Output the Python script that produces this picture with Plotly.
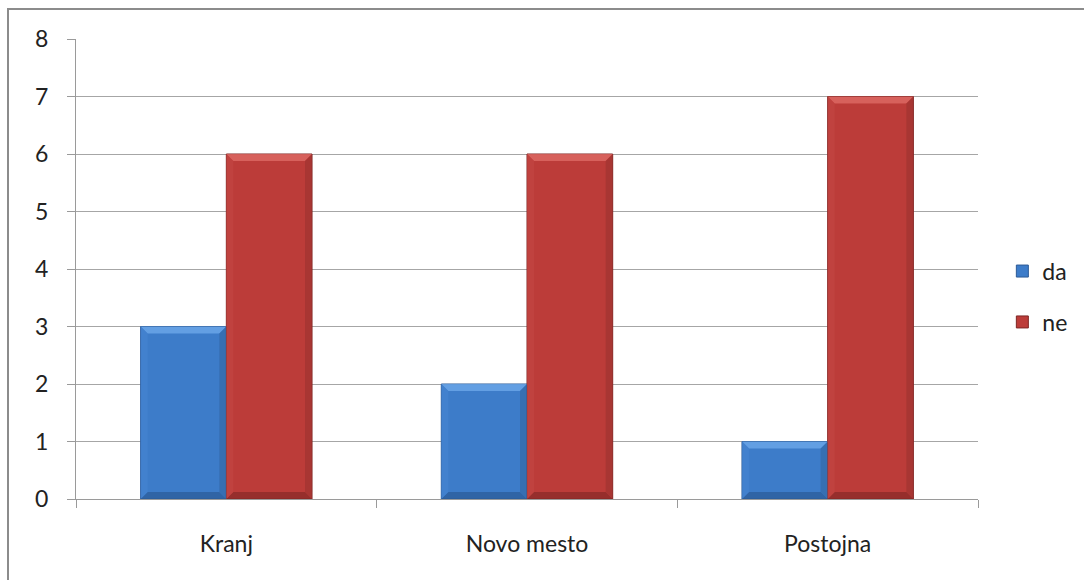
import plotly.graph_objects as go

categories = ["Kranj", "Novo mesto", "Postojna"]
da_values = [3, 2, 1]
ne_values = [6, 6, 7]
y_ticks = [0, 1, 2, 3, 4, 5, 6, 7, 8]

W, H = 1084, 580
L, R, T, B = 76, 106, 39, 81
FONT = "Lato"
BARGAP = 0.43

# bevel palettes: face, top, bottom, left, right
BLUE = dict(face="#3D7CC9", top="#74AEEE", bottom="#2B5A96", left="#4483D0", right="#3469A8")
RED = dict(face="#BC3C39", top="#E2706B", bottom="#862826", left="#C24441", right="#A03331")

fig = go.Figure()
fig.add_trace(go.Bar(
    name="da", x=categories, y=da_values, legendgroup="da",
    marker=dict(color=BLUE["face"], line=dict(color="#2C5A96", width=1)),
))
fig.add_trace(go.Bar(
    name="ne", x=categories, y=ne_values, legendgroup="ne",
    marker=dict(color=RED["face"], line=dict(color="#7E2624", width=1)),
))

# bevelled edges on each bar, placed from the same values
bar_w = (1 - BARGAP) / 2
plot_w = W - L - R
plot_h = H - T - B
dx = 7 / plot_w * len(categories)
dy_unit = 7 / plot_h * (y_ticks[-1] - y_ticks[0])


def bevel(x0, x1, h, pal):
    dy = min(dy_unit, h / 3)
    polys = [
        (pal["top"], [(x0, h), (x1, h), (x1 - dx, h - dy), (x0 + dx, h - dy)]),
        (pal["bottom"], [(x0, 0), (x1, 0), (x1 - dx, dy), (x0 + dx, dy)]),
        (pal["left"], [(x0, 0), (x0, h), (x0 + dx, h - dy), (x0 + dx, dy)]),
        (pal["right"], [(x1, 0), (x1, h), (x1 - dx, h - dy), (x1 - dx, dy)]),
    ]
    for col, pts in polys:
        path = "M " + " L ".join(f"{px},{py}" for px, py in pts) + " Z"
        fig.add_shape(type="path", xref="x", yref="y", path=path,
                      fillcolor=col, line=dict(width=0), layer="above", opacity=0.7)


for i in range(len(categories)):
    bevel(i - bar_w, i, da_values[i], BLUE)
    bevel(i, i + bar_w, ne_values[i], RED)

fig.update_layout(
    width=W, height=H,
    margin=dict(l=L, r=R, t=T, b=B, autoexpand=False),
    paper_bgcolor="white", plot_bgcolor="white",
    barmode="group", bargap=BARGAP, bargroupgap=0,
    font=dict(family=FONT, size=23, color="#222222"),
    showlegend=True,
    legend=dict(
        x=1.027, y=0.44, xanchor="left", yanchor="middle",
        font=dict(family=FONT, size=23, color="#222222"),
        itemwidth=30, traceorder="grouped", tracegroupgap=18,
        bgcolor="rgba(0,0,0,0)",
    ),
    xaxis=dict(
        showgrid=False, showline=True, linecolor="#9A9A9A", linewidth=1,
        ticks="outside", tickson="boundaries", ticklen=8, tickcolor="#9A9A9A",
        ticklabelstandoff=24, fixedrange=True, range=[-0.5, 2.5],
    ),
    yaxis=dict(
        range=[0, 8], tickvals=y_ticks, showgrid=True, gridcolor="#A6A6A6",
        gridwidth=1, showline=True, linecolor="#9A9A9A", linewidth=1,
        ticks="outside", ticklen=8, tickcolor="#9A9A9A",
        ticklabelstandoff=14, zeroline=False, fixedrange=True,
    ),
)

# outer chart frame
fig.add_shape(
    type="rect", xref="paper", yref="paper",
    x0=(8 - L) / plot_w, x1=1.2,
    y0=-0.3, y1=(H - B - 9) / plot_h,
    line=dict(color="#8C8C8C", width=2), fillcolor="rgba(0,0,0,0)",
    layer="below",
)

fig.write_html("out.html")
